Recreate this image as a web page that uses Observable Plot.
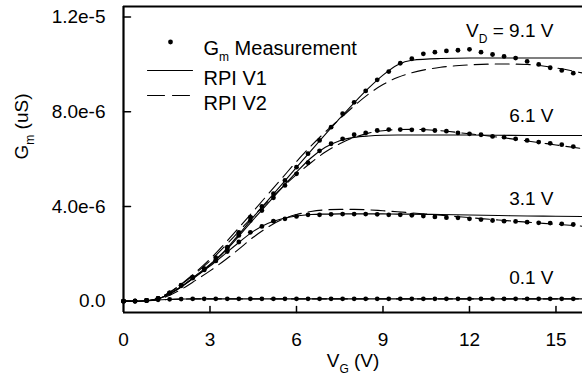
<!DOCTYPE html>
<html>
<head>
<meta charset="utf-8">
<script src="https://cdn.jsdelivr.net/npm/d3@7"></script>
<script src="https://cdn.jsdelivr.net/npm/@observablehq/plot@0.6"></script>
<style>
  html, body { margin: 0; padding: 0; background: #fff; }
  #chart { width: 582px; height: 385px; }
</style>
</head>
<body>
<div id="chart"></div>
<script>
// ---- Data (values in units of 1e-6 S) ----
const vgMeas = [0,0.4,0.8,1.2,1.6,2.0,2.4,2.8,3.2,3.6,4.0,4.4,4.8,5.2,5.6,6.0,6.4,6.8,7.2,7.6,8.0,8.4,8.8,9.2,9.6,10.0,10.4,10.8,11.2,11.6,12.0,12.4,12.8,13.2,13.6,14.0,14.4,14.8,15.2,15.6];
const meas91 = [0,0,0.03,0.12,0.35,0.68,1.02,1.38,1.84,2.28,2.91,3.55,4.0,4.54,5.10,5.66,6.23,6.79,7.35,7.92,8.40,8.88,9.35,9.70,10.05,10.24,10.45,10.52,10.57,10.60,10.64,10.52,10.42,10.34,10.27,10.13,10.00,9.86,9.75,9.63];
const meas61 = [0,0,0.03,0.12,0.35,0.67,1.0,1.36,1.72,2.2,2.78,3.41,3.83,4.37,4.89,5.38,5.85,6.35,6.65,6.86,7.03,7.11,7.21,7.25,7.25,7.24,7.24,7.21,7.18,7.11,7.07,7.03,6.96,6.93,6.86,6.79,6.72,6.67,6.61,6.53];
const meas31 = [0,0,0.03,0.12,0.34,0.65,0.98,1.32,1.7,2.1,2.5,2.91,3.16,3.38,3.48,3.58,3.65,3.65,3.67,3.68,3.68,3.68,3.67,3.65,3.65,3.63,3.6,3.56,3.53,3.52,3.48,3.45,3.41,3.38,3.37,3.34,3.31,3.3,3.27,3.24];
const meas01 = [0,0.01,0.03,0.06,0.08,0.09,0.1,0.1,0.1,0.1,0.1,0.1,0.1,0.1,0.1,0.1,0.1,0.1,0.1,0.1,0.1,0.1,0.1,0.1,0.1,0.1,0.1,0.1,0.1,0.1,0.1,0.1,0.1,0.1,0.1,0.1,0.1,0.1,0.1,0.1];

const vgModel = [0,0.5,1,1.5,2,2.5,3,3.5,4,4.5,5,5.5,6,6.5,7,7.5,8,8.5,9,9.5,10,11,12,13,14,15,16];
const v1_91 = [0,0,0.04,0.25,0.62,1.08,1.55,2.12,2.82,3.55,4.25,4.95,5.65,6.35,7.05,7.72,8.38,9.0,9.55,9.98,10.18,10.25,10.27,10.27,10.27,10.27,10.27];
const v2_91 = [0,0,0.05,0.3,0.72,1.22,1.78,2.42,3.1,3.8,4.5,5.2,5.9,6.55,7.15,7.7,8.25,8.75,9.15,9.45,9.65,9.88,9.98,10.02,10.0,9.85,9.62];
const v1_61 = [0,0,0.04,0.25,0.6,1.05,1.52,2.08,2.75,3.45,4.12,4.8,5.45,6.05,6.5,6.78,6.92,6.98,7.01,7.02,7.02,7.02,7.02,7.01,7.0,7.0,7.0];
const v2_61 = [0,0,0.05,0.3,0.7,1.18,1.7,2.3,2.95,3.6,4.2,4.8,5.35,5.85,6.3,6.65,6.92,7.1,7.2,7.25,7.26,7.2,7.07,6.93,6.77,6.6,6.43];
const v1_31 = [0,0,0.04,0.25,0.6,1.03,1.48,1.98,2.48,2.95,3.28,3.48,3.6,3.66,3.68,3.69,3.69,3.69,3.69,3.68,3.68,3.66,3.64,3.62,3.6,3.59,3.58];
const v2_31 = [0,0,0.03,0.2,0.5,0.88,1.28,1.72,2.2,2.7,3.12,3.45,3.66,3.79,3.86,3.88,3.88,3.86,3.82,3.78,3.73,3.63,3.53,3.43,3.34,3.25,3.16];
const v1_01 = [0,0.01,0.04,0.07,0.09,0.1,0.1,0.1,0.1,0.1,0.1,0.1,0.1,0.1,0.1,0.1,0.1,0.1,0.1,0.1,0.1,0.1,0.1,0.1,0.1,0.1,0.1];
const v2_01 = [0,0.01,0.04,0.07,0.09,0.1,0.1,0.1,0.1,0.1,0.1,0.1,0.1,0.1,0.1,0.1,0.1,0.1,0.1,0.1,0.1,0.1,0.1,0.1,0.1,0.1,0.1];

const vdLabels = ["V{D} = 9.1 V", "6.1 V", "3.1 V", "0.1 V"];
const legendLabels = ["G{m} Measurement", "RPI V1", "RPI V2"];
const xTicks = [0, 3, 6, 9, 12, 15];
const xTickLabels = ["0", "3", "6", "9", "12", "15"];
const yTicks = [0, 4, 8, 12];
const yTickLabels = ["0.0", "4.0e-6", "8.0e-6", "1.2e-5"];
const xTitle = "V{G} (V)";
const yTitle = "G{m} (uS)";

// ---- Tables built from the arrays ----
const measSeries = [meas91, meas61, meas31, meas01];
const measRows = measSeries.flatMap((s, k) => s.map((g, i) => ({vg: vgMeas[i], g, k})));
const toRows = (series) => series.flatMap((s, k) => s.map((g, i) => ({vg: vgModel[i], g, k})));
const v1Rows = toRows([v1_91, v1_61, v1_31, v1_01]);
const v2Rows = toRows([v2_91, v2_61, v2_31, v2_01]);
const labelRows = vdLabels.map((text, i) => ({text, g: [v1_91, v1_61, v1_31, v1_01][i].at(-1)}));
const labelDy = [-27, -20, -18, -21];
const legDy = [34, 64, 89];

const xDomain = [0, 15.92];
const yDomain = [-0.477, 12.448];
const seg = {draw(context, l) { context.moveTo(0, 0); context.lineTo(0, -l); }};
const FONT = 19;
const LEGFONT = 20;

const chart = Plot.plot({
  width: 582,
  height: 385,
  marginLeft: 123,
  marginRight: 0,
  marginTop: 6,
  marginBottom: 73,
  style: {fontFamily: "'Liberation Sans', Arial, sans-serif", fontSize: FONT + "px", background: "#fff", color: "#000"},
  x: {domain: xDomain},
  y: {domain: yDomain},
  marks: [
    // frame (left, top, bottom)
    Plot.ruleX([xDomain[0]], {stroke: "black", strokeWidth: 2.2}),
    Plot.ruleY([yDomain[1]], {stroke: "black", strokeWidth: 2.2}),
    Plot.ruleY([yDomain[0]], {stroke: "black", strokeWidth: 2.2}),
    // inward ticks
    Plot.vector(yTicks, {y: d => d, frameAnchor: "left", length: 7, rotate: 90, anchor: "start", shape: seg, stroke: "black", strokeWidth: 1.5}),
    Plot.vector(xTicks.slice(1), {x: d => d, frameAnchor: "bottom", length: 6, rotate: 0, anchor: "start", shape: seg, stroke: "black", strokeWidth: 1.5}),
    // tick labels
    Plot.axisX({ticks: xTicks, tickSize: 0, tickPadding: 20, label: null, tickFormat: d => xTickLabels[xTicks.indexOf(d)]}),
    Plot.axisY({ticks: yTicks, tickSize: 0, tickPadding: 18, label: null, tickFormat: d => yTickLabels[yTicks.indexOf(d)]}),
    // model curves
    Plot.line(v2Rows, {x: "vg", y: "g", z: "k", stroke: "black", strokeWidth: 1.1, strokeDasharray: "14,7", curve: "monotone-x"}),
    Plot.line(v1Rows, {x: "vg", y: "g", z: "k", stroke: "black", strokeWidth: 1.1, curve: "monotone-x"}),
    // measurements
    Plot.dot(measRows, {x: "vg", y: "g", r: 2.4, fill: "black", stroke: null}),
    // VD labels
    Plot.text(labelRows, {y: "g", text: "text", frameAnchor: "right", dx: -29, textAnchor: "end", fontSize: FONT}),
    // axis titles
    Plot.text([xTitle], {frameAnchor: "bottom", dy: 54, fontSize: FONT}),
    Plot.text([yTitle], {frameAnchor: "left", rotate: -90, dx: -102, fontSize: FONT}),
    // legend
    Plot.dot([legendLabels[0]], {frameAnchor: "top-left", dx: 47, dy: 35.5, r: 2.4, fill: "black", stroke: null}),
    Plot.vector([legendLabels[1]], {frameAnchor: "top-left", dx: 24, dy: 64, length: 45, rotate: 90, anchor: "start", shape: seg, stroke: "black", strokeWidth: 1.1}),
    Plot.vector([legendLabels[2]], {frameAnchor: "top-left", dx: 24, dy: 89, length: 45, rotate: 90, anchor: "start", shape: seg, stroke: "black", strokeWidth: 1.1, strokeDasharray: "17,8"}),
    Plot.text(legendLabels, {frameAnchor: "top-left", text: d => d, dx: 80, textAnchor: "start", fontSize: LEGFONT})
  ]
});

const svg = chart;
document.getElementById("chart").appendChild(svg);

// per-item vertical offsets (Plot's dy is one constant per mark)
const textGroups = svg.querySelectorAll("g[aria-label='text']");
// group 0: VD labels, group 1: x title, group 2: y title, group 3: legend
textGroups[0].querySelectorAll("text").forEach((t, i) => t.setAttribute("transform", ((t.getAttribute("transform") || "") + ` translate(0,${labelDy[i]})`).trim()));
textGroups[3].querySelectorAll("text").forEach((t, i) => t.setAttribute("transform", ((t.getAttribute("transform") || "") + ` translate(0,${legDy[i]})`).trim()));

// subscripts: "A{b} rest"
svg.querySelectorAll("text").forEach(t => {
  const s = t.textContent;
  if (!s.includes("{")) return;
  const m = s.match(/^([^{]*)\{([^}]*)\}(.*)$/);
  if (!m) return;
  t.textContent = "";
  const ns = "http://www.w3.org/2000/svg";
  const a = document.createElementNS(ns, "tspan"); a.textContent = m[1]; t.appendChild(a);
  const b = document.createElementNS(ns, "tspan"); b.textContent = m[2];
  b.setAttribute("font-size", Math.round(FONT * 0.62)); b.setAttribute("dy", "6"); t.appendChild(b);
  const c = document.createElementNS(ns, "tspan"); c.textContent = m[3]; c.setAttribute("dy", "-6"); t.appendChild(c);
});
</script>
</body>
</html>
